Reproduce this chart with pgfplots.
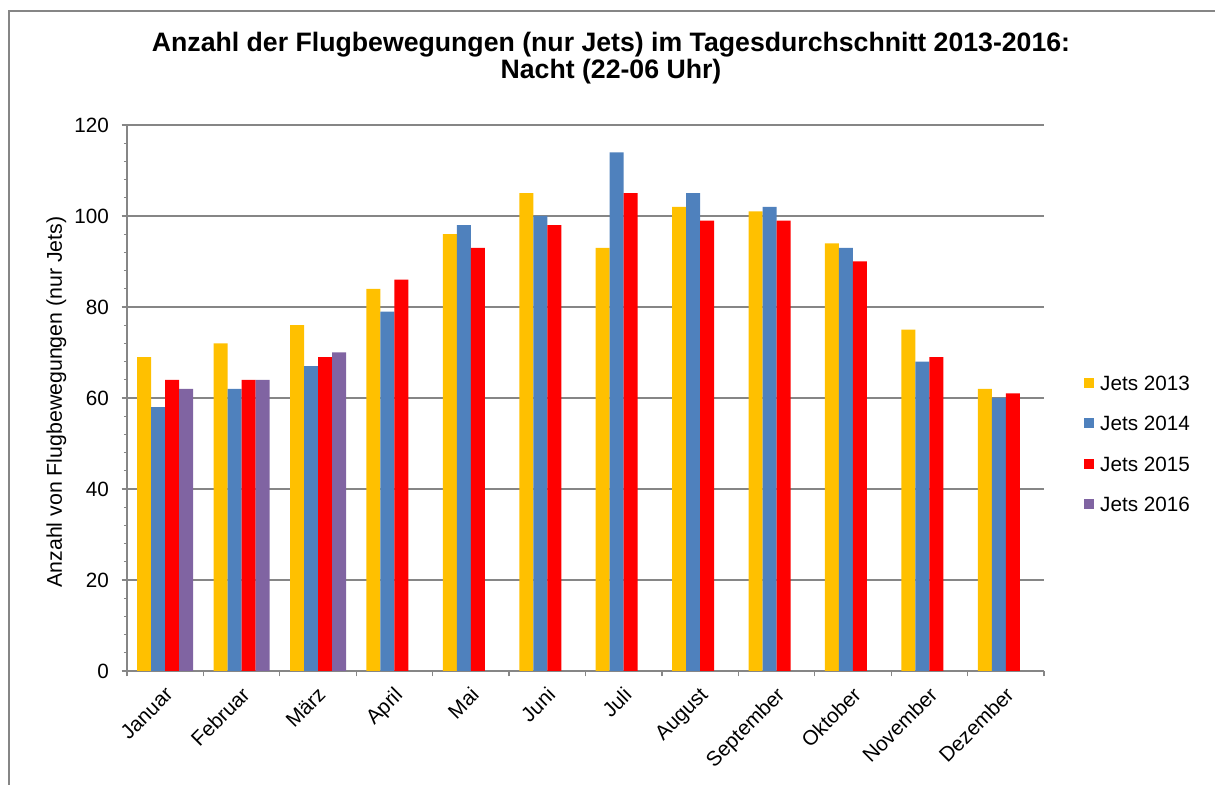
\documentclass[border=0pt]{standalone}
\usepackage{fontspec}
\setmainfont{Liberation Sans}
\usepackage{pgfplots}
\pgfplotsset{compat=1.18}
\definecolor{c13}{HTML}{FFC000}
\definecolor{c14}{HTML}{4F81BD}
\definecolor{c15}{HTML}{FF0000}
\definecolor{c16}{HTML}{8064A2}
\definecolor{axgray}{HTML}{868686}
\pgfplotsset{myleg/.style={legend image code/.code={\fill[##1] (0pt,-4pt) rectangle (7.5pt,3.5pt);}}}
\begin{document}
\begin{tikzpicture}
\useasboundingbox (-95.25pt,-85.5pt) rectangle (816pt,503.25pt);
\draw[axgray, line width=1pt] (-88.5pt,-90pt) -- (-88.5pt,495pt) -- (820pt,495pt);
\begin{axis}[
  scale only axis, width=687.75pt, height=409.5pt,
  at={(0,0)}, anchor=south west,
  xmin=-0.5, xmax=11.5, ymin=0, ymax=120,
  ybar=0pt, bar width=0.1833,
  axis x line*=bottom, axis y line*=left,
  axis line style={-, axgray, line width=1.2pt},
  xtick={-0.5,0.5,...,11.5},
  x tick label as interval,
  xticklabels={Januar,Februar,März,April,Mai,Juni,Juli,August,September,Oktober,November,Dezember,{}},
  ytick={0,20,...,120}, minor y tick num=4,
  ymajorgrids, grid style={axgray, line width=1pt},
  tick align=outside, major tick length=4pt, minor tick length=2.25pt,
  tick style={axgray, line width=1pt},
  tick label style={font=\fontsize{15.5}{18}\selectfont, text=black},
  xticklabel style={xshift=-1pt, yshift=-5.5pt, rotate=45, anchor=north east, inner sep=1pt},
  yticklabel style={xshift=-6pt},
  /pgf/number format/assume math mode=true,
  every axis y label/.style={at={(axis description cs:-0.0770,0.4927)}, rotate=90, anchor=center},
  ylabel={\fontsize{16}{18}\selectfont Anzahl von Flugbewegungen (nur Jets)},
  legend style={at={(axis description cs:1.0436,0.417)}, anchor=west, draw=none, fill=none,
    inner sep=0pt, font=\fontsize{15.5}{18}\selectfont, row sep=18.9pt, column sep=4.5pt,
    nodes={inner sep=0pt, text height=11.5pt, text depth=0pt}},
  legend cell align=left,
]
\addplot[fill=c13, draw=none, myleg] coordinates {(0,69) (1,72) (2,76) (3,84) (4,96) (5,105) (6,93) (7,102) (8,101) (9,94) (10,75) (11,62)};
\addplot[fill=c14, draw=none, myleg] coordinates {(0,58) (1,62) (2,67) (3,79) (4,98) (5,100) (6,114) (7,105) (8,102) (9,93) (10,68) (11,60)};
\addplot[fill=c15, draw=none, myleg] coordinates {(0,64) (1,64) (2,69) (3,86) (4,93) (5,98) (6,105) (7,99) (8,99) (9,90) (10,69) (11,61)};
\addplot[fill=c16, draw=none, myleg] coordinates {(0,62) (1,64) (2,70)};
\legend{Jets 2013, Jets 2014, Jets 2015, Jets 2016}
\end{axis}
\node[anchor=base, font=\bfseries\fontsize{20}{22}\selectfont] at (363pt,464.25pt) {Anzahl der Flugbewegungen (nur Jets) im Tagesdurchschnitt 2013-2016:};
\node[anchor=base, font=\bfseries\fontsize{20}{22}\selectfont] at (363pt,444pt) {Nacht (22-06 Uhr)};
\end{tikzpicture}
\end{document}
